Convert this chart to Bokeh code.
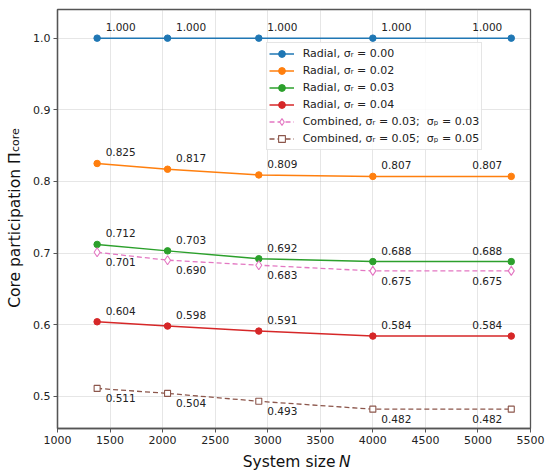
import numpy as np
from bokeh.plotting import figure
from bokeh.models import (Label, Legend, LegendItem, FixedTicker,
                          PrintfTickFormatter, Range1d)
from bokeh.core.properties import value
from bokeh.embed import file_html
from bokeh.resources import INLINE

# ---- data ----
N = [1377, 2047, 2915, 4000, 5317]
radial_000 = [1.000, 1.000, 1.000, 1.000, 1.000]
radial_002 = [0.825, 0.817, 0.809, 0.807, 0.807]
radial_003 = [0.712, 0.703, 0.692, 0.688, 0.688]
radial_004 = [0.604, 0.598, 0.591, 0.584, 0.584]
comb_003 = [0.701, 0.690, 0.683, 0.675, 0.675]
comb_005 = [0.511, 0.504, 0.493, 0.482, 0.482]

x_ticks = [1000, 1500, 2000, 2500, 3000, 3500, 4000, 4500, 5000, 5500]
y_ticks = [0.5, 0.6, 0.7, 0.8, 0.9, 1.0]

NB = "\u00a0"
legend_labels = [
    "Radial, σᵣ = 0.00",
    "Radial, σᵣ = 0.02",
    "Radial, σᵣ = 0.03",
    "Radial, σᵣ = 0.04",
    "Combined, σᵣ = 0.03;" + NB + NB + "σₚ = 0.03",
    "Combined, σᵣ = 0.05;" + NB + NB + "σₚ = 0.05",
]

FONT = "DejaVu Sans"
W, H = 550, 473

p = figure(width=W, height=H, output_backend="svg", toolbar_location=None,
           x_range=Range1d(1000, 5500), y_range=Range1d(0.455, 1.040),
           min_border_left=57, min_border_right=20, min_border_top=9,
           min_border_bottom=45)
p.background_fill_color = "white"
p.border_fill_color = "white"
p.outline_line_color = "#555555"
p.outline_line_width = 1.3

for ax in (p.xaxis, p.yaxis):
    ax.axis_line_color = "#555555"
    ax.axis_line_width = 1.3
    ax.major_tick_line_color = "#555555"
    ax.major_tick_out = 4
    ax.major_tick_in = 0
    ax.minor_tick_out = 0
    ax.minor_tick_in = 0
    ax.major_label_text_font = FONT
    ax.major_label_text_font_size = "11px"
    ax.major_label_text_color = "#222222"

p.xaxis.ticker = FixedTicker(ticks=x_ticks)
p.yaxis.ticker = FixedTicker(ticks=y_ticks)
p.yaxis.formatter = PrintfTickFormatter(format="%.1f")
p.xaxis.major_label_standoff = 3
p.yaxis.major_label_standoff = 3

p.xaxis.axis_label = "System size" + NB + NB
p.xaxis.axis_label_text_font = FONT
p.xaxis.axis_label_text_font_size = "15.5px"
p.xaxis.axis_label_text_font_style = "normal"
p.xaxis.axis_label_text_color = "#111111"
p.xaxis.axis_label_standoff = 6

p.xgrid.ticker = FixedTicker(ticks=x_ticks)
p.ygrid.ticker = FixedTicker(ticks=y_ticks)
for g in (p.xgrid, p.ygrid):
    g.grid_line_color = "#b0b0b0"
    g.grid_line_alpha = 0.4
    g.grid_line_width = 0.8

series = [
    (radial_000, "#1f77b4", "solid", "circle", "above"),
    (radial_002, "#ff7f0e", "solid", "circle", "above"),
    (radial_003, "#2ca02c", "solid", "circle", "above"),
    (radial_004, "#d62728", "solid", "circle", "above"),
    (comb_003, "#e377c2", "5 3", "diamond", "below"),
    (comb_005, "#8c564b", "5 3", "square", "below"),
]

items = []
for (vals, color, dash, marker, pos), lab in zip(series, legend_labels):
    lw = 1.5 if dash == "solid" else 1.3
    lr = p.line(N, vals, line_color=color, line_width=lw, line_dash=dash)
    if marker == "circle":
        sr = p.scatter(N, vals, marker="circle", size=6.5, fill_color=color,
                       line_color=color)
    elif marker == "diamond":
        sr = p.scatter(N, vals, marker="diamond", size=9, fill_color="white",
                       line_color=color, line_width=1.1)
    else:
        sr = p.scatter(N, vals, marker="square", size=6, fill_color="white",
                       line_color=color, line_width=1.1)
    items.append(LegendItem(label=lab, renderers=[lr, sr]))

    yoff = -11 if pos == "above" else 10
    txt = ["%.3f" % v for v in vals]
    p.text(N[:-1], vals[:-1], text=txt[:-1], x_offset=8.5, y_offset=yoff,
           text_align="left", text_baseline="middle",
           text_font=value(FONT), text_font_size="10.5px", text_color="#222222")
    p.text(N[-1:], vals[-1:], text=txt[-1:], x_offset=-9, y_offset=yoff,
           text_align="right", text_baseline="middle",
           text_font=value(FONT), text_font_size="10.5px", text_color="#222222")

legend = Legend(items=items, location=(208.7, 278), margin=0, padding=2,
                spacing=0, glyph_width=25, glyph_height=17, label_height=17,
                label_standoff=9, label_text_font=FONT,
                label_text_font_size="11px", label_text_color="#222222",
                border_line_color="#cccccc", border_line_width=1,
                background_fill_color="white", background_fill_alpha=0.85)
p.add_layout(legend, "center")

# y title and its subscript, italic N: side-panel labels (not clipped)
p.add_layout(Label(x=2.3, y=120.7, x_units="screen", y_units="screen",
                   angle=np.pi / 2, text="Core participation Π", text_font=FONT,
                   text_font_size="15.5px", text_color="#111111",
                   text_align="left", text_baseline="alphabetic"), "left")
p.add_layout(Label(x=338.5, y=-33, x_units="screen", y_units="screen",
                   text="N", text_font=FONT, text_font_size="15.5px",
                   text_font_style="italic", text_color="#111111",
                   text_align="left", text_baseline="alphabetic"), "left")
p.add_layout(Label(x=-515, y=276.4, x_units="screen", y_units="screen",
                   angle=np.pi / 2, text="core", text_font=FONT,
                   text_font_size="11px", text_color="#111111",
                   text_align="left", text_baseline="alphabetic"), "right")

open("out.html", "w").write(file_html(p, INLINE))
